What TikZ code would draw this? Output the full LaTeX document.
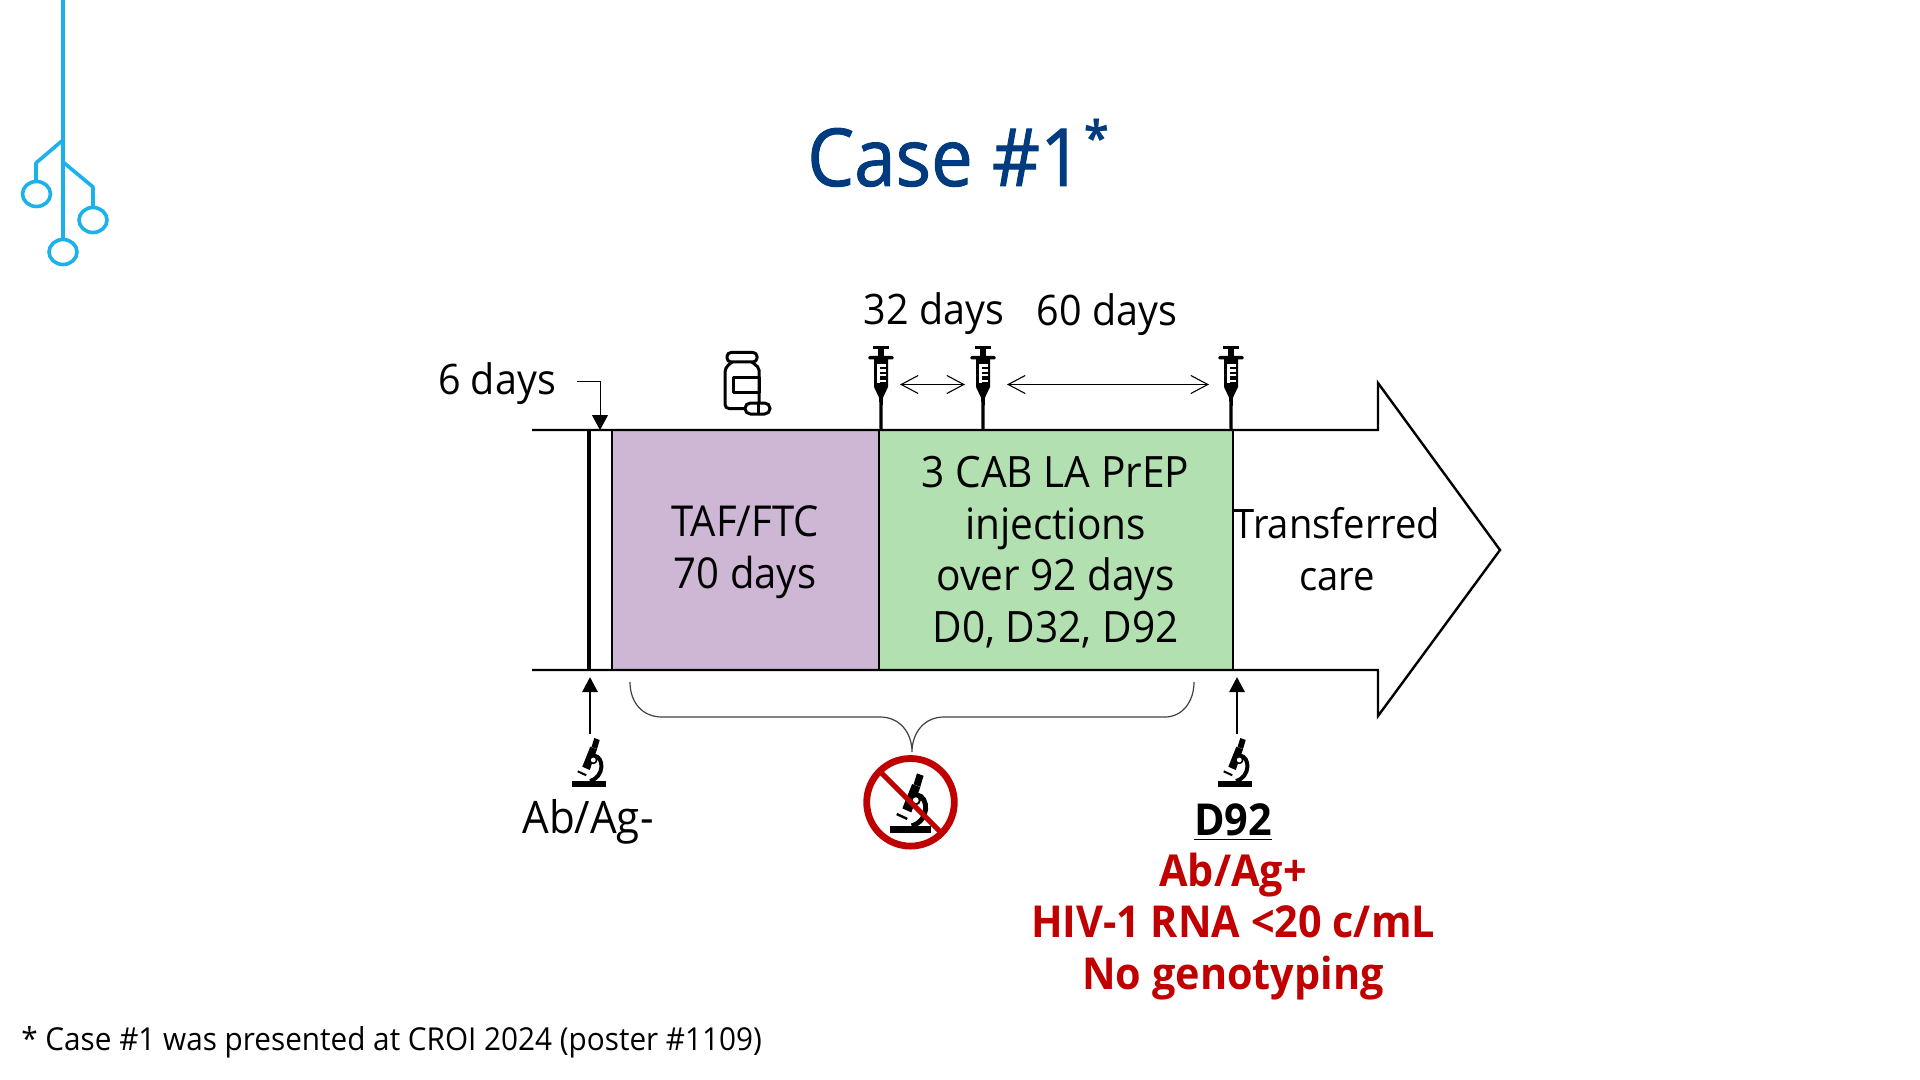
\documentclass[tikz,border=0pt]{standalone}
\usepackage{fontspec}
\setmainfont{Open Sans}[FakeStretch=0.94]
\newfontfamily\headingfont{Open Sans}[FakeStretch=0.93,FakeBold=1.2]
\usetikzlibrary{arrows.meta}
\definecolor{titleblue}{HTML}{003B7F}
\definecolor{logoblue}{HTML}{1BB1EA}
\definecolor{alertred}{HTML}{C00000}
\definecolor{tafpurple}{HTML}{CDB7D5}
\definecolor{cabgreen}{HTML}{B2E0B0}
\tikzset{
  x=0.5pt,y=-0.5pt,
  logo/.style={draw=logoblue,line width=1.8pt,line join=round},
  label/.style={inner sep=0pt,outer sep=0pt,align=center,font=\fontsize{21}{25.8}\selectfont,text=black},
  redlabel/.style={label,font=\fontsize{22}{25.8}\selectfont\bfseries,text=alertred},
  axis/.style={line width=1.2pt,black},
  period/.style={draw=black,line width=1.2pt,minimum height=120pt,inner sep=0pt,outer sep=0pt},
  span/.style={line width=0.55pt,{Straight Barb[length=8.5pt,width=9pt]}-{Straight Barb[length=8.5pt,width=9pt]}},
  sample/.style={line width=1.4pt,-{Triangle[length=7.5pt,width=7.5pt]}},
  brace/.style={draw=black!75,line width=0.6pt},
  syringe/.pic={
    \fill[black] (-8.3,-84) rectangle (8.3,-81);
    \fill[black] (-3.2,-82) rectangle (3.2,-72);
    \fill[black,rounded corners=0.7pt] (-12.7,-74) rectangle (12.7,-70.5);
    \fill[black] (-7,-71) -- (7,-71) -- (7,-43) -- (1.8,-32) -- (1.5,0) -- (-1.5,0) -- (-1.8,-32) -- (-7,-43) -- cycle;
    \fill[white] (-4,-66) rectangle (-0.7,-47);
    \foreach \ty in {-66,-61.2,-56.4,-50.5}{\fill[white] (-4,\ty) rectangle (4.7,\ty+2.8);}
  },
  microscope/.pic={
    \begin{scope}[scale=#1]
      \fill[black] (-16.7,-3) rectangle (16.7,3);
      \fill[black] (5.3,-46) -- (10.7,-44) -- (8,-35) -- (2.5,-37) -- cycle;
      \fill[black] (1.3,-37.3) -- (8,-34.7) -- (0.7,-14) -- (-6.7,-17.3) -- cycle;
      \draw[black,line width=#1*2pt] (5,-28.5) .. controls (15.5,-27) and (15.5,-7) .. (1,-3);
      \fill[black] (4.3,-24) circle[radius=4.2];
      \fill[white] (4.3,-24) circle[radius=2.4];
      \draw[black,line width=#1*1pt] (-11.3,-12.7) -- (-2.7,-8.7);
    \end{scope}
  }
}
\begin{document}
\begin{tikzpicture}
\useasboundingbox (0,0) rectangle (1920,1080);
\fill[white] (0,0) rectangle (1920,1080);

% branching corner logo
\draw[logo] (63,0) -- (63,238);
\draw[logo] (63,140) -- (36,163) -- (36,182);
\draw[logo] (63,162) -- (93,187) -- (93,207);
\draw[logo] (36.5,194) ellipse[x radius=14,y radius=12.5];
\draw[logo] (93,220) ellipse[x radius=14,y radius=12.5];
\draw[logo] (63,252) ellipse[x radius=14,y radius=12.5];

% title
\node[anchor=base,inner sep=0pt,text=titleblue,font=\headingfont\fontsize{40}{48}\selectfont] (title) at (945,186) {Case \#1};
\node[anchor=base,inner sep=0pt,text=titleblue,font=\fontsize{24}{28}\selectfont\bfseries] (star) at (1097,156) {*};

% timeline periods
\node[period,fill=white,minimum width=11.5pt] (lead) at (600.5,550) {};
\draw[line width=1.6pt] (lead.north west) -- (lead.south west);
\node[period,fill=tafpurple,minimum width=133.5pt] (taf) at (745.5,550) {};
\node[period,fill=cabgreen,minimum width=177pt] (cab) at (1056,550) {};
\node[label,font=\fontsize{21.3}{25.8}\selectfont] (taftext) at (745,552) {TAF/FTC\\70 days};
\node[label,font=\fontsize{21.6}{25.8}\selectfont] (cabtext) at (1055.5,552) {3 CAB LA PrEP\\injections\\over 92 days\\D0, D32, D92};

% big arrow continuing the timeline
\coordinate (ttop) at (532,430);
\coordinate (tbot) at (532,670);
\coordinate (hbase) at (1378,430);
\coordinate (hup) at (1378,383);
\coordinate (htip) at (1500,550);
\coordinate (hlow) at (1378,716);
\coordinate (hbot) at (1378,670);
\draw[axis,line join=miter] (ttop) -- (hbase) -- (hup) -- (htip) -- (hlow) -- (hbot) -- (tbot);
\node[label,font=\fontsize{20.3}{25.8}\selectfont] (care) at (1337,549) {Transferred\\care};

% upper annotations
\node[label,anchor=center] (six) at (497,384) {6 days};
\node[label] (d32) at (934,314) {32 days};
\node[label] (d60) at (1107,315) {60 days};
\coordinate (sixs) at (577,381);
\coordinate (sixe) at (600,430);
\draw[line width=0.5pt,-{Triangle[length=7.5pt,width=8pt]}] (sixs) -| (sixe);

% pill bottle
\begin{scope}[line width=1.5pt,draw=black,line join=round]
  \draw[rounded corners=2pt] (727,352.5) rectangle (757,362);
  \draw[rounded corners=2pt] (745,408.5) -- (725,408.5) -- (725,368) -- (732,362);
  \draw[rounded corners=1pt] (752,362) -- (759,368) -- (759,402);
  \draw (733,377.5) rectangle (759,392.5);
  \draw[rounded corners=2.7pt] (745,403) rectangle (770,414);
  \draw (758,403) -- (758,414);
\end{scope}

% injections and the gaps between them
\pic at (881,430) {syringe};
\pic at (983,430) {syringe};
\pic at (1231,430) {syringe};
\coordinate (g1a) at (900,384.5);
\coordinate (g1b) at (965,384.5);
\coordinate (g2a) at (1007,384.5);
\coordinate (g2b) at (1209,384.5);
\draw[span] (g1a) -- (g1b);
\draw[span] (g2a) -- (g2b);

% sampling arrows and microscopes
\coordinate (s1a) at (590,734);
\coordinate (s1b) at (590,677);
\coordinate (s2a) at (1237,734);
\coordinate (s2b) at (1237,677);
\draw[sample] (s1a) -- (s1b);
\draw[sample] (s2a) -- (s2b);
\pic at (589,784) {microscope=1};
\pic at (1235,784) {microscope=1};
\node[label,font=\fontsize{22.4}{25.8}\selectfont] (abneg) at (588,822) {Ab/Ag-};
\node[label,font=\fontsize{22}{25.8}\selectfont\bfseries] (d92) at (1233,822) {\underline{D92}};
\node[redlabel] (res) at (1233,926.5) {Ab/Ag+\\HIV-1 RNA <20 c/mL\\No genotyping};

% brace over the unsampled stretch
\coordinate (ba) at (630,682);
\coordinate (bb) at (1194,682);
\coordinate (bm) at (912,752);
\draw[brace] (ba) .. controls (630,702) and (642,717) .. (662,717) -- (880,717) .. controls (900,717) and (912,733) .. (bm)
  .. controls (912,733) and (924,717) .. (944,717) -- (1165,717) .. controls (1182,717) and (1194,702) .. (bb);

% crossed-out microscope
\pic at (910.5,829.5) {microscope=1.22};
\draw[alertred,line width=3.4pt] (910.5,802.3) circle[radius=43.8];
\draw[alertred,line width=2.6pt] (880,771.5) -- (941,832.5);

% footnote
\node[anchor=base west,inner sep=0pt,font=\fontsize{15.8}{18}\selectfont] (foot) at (21,1050) {* Case \#1 was presented at CROI 2024 (poster \#1109)};
\end{tikzpicture}
\end{document}
